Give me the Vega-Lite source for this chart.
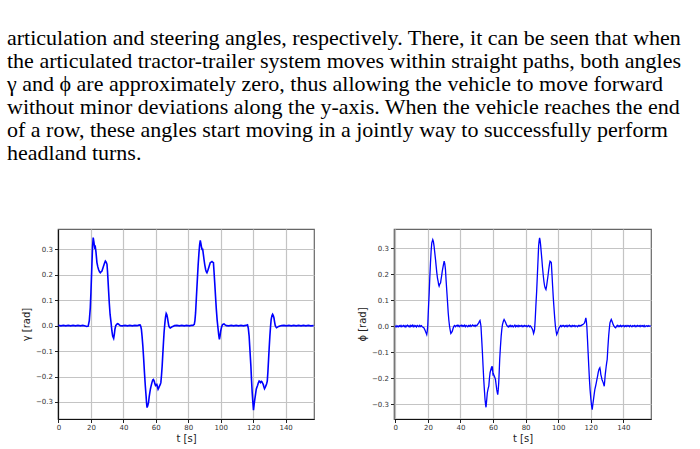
{
  "$schema": "https://vega.github.io/schema/vega-lite/v6.json",
  "background": "white",
  "padding": {"left": 7, "top": 27, "right": 0, "bottom": 0},
  "title": {
    "text": [
      "articulation and steering angles, respectively.  There, it can be seen that when",
      "the articulated tractor-trailer system moves within straight paths, both angles",
      "γ and ϕ are approximately zero, thus allowing the vehicle to move forward",
      "without minor deviations along the y-axis.  When the vehicle reaches the end",
      "of a row, these angles start moving in a jointly way to successfully perform",
      "headland turns."
    ],
    "font": "Liberation Serif",
    "fontSize": 22,
    "fontWeight": "normal",
    "color": "#000000",
    "anchor": "start",
    "frame": "group",
    "dx": -51,
    "lineHeight": 23,
    "offset": 63
  },
  "datasets": {
    "gamma": [
      {"t": 0, "v": 0.001}, {"t": 1.5, "v": -0.001}, {"t": 3, "v": 0.001}, {"t": 4.5, "v": -0.001}, {"t": 6, "v": 0.001}, {"t": 7.5, "v": -0.001}, {"t": 9, "v": 0.001}, {"t": 10.5, "v": -0.001}, {"t": 12, "v": 0.001}, {"t": 13.5, "v": -0.001}, {"t": 15, "v": 0.001}, {"t": 16.5, "v": -0.001}, {"t": 17.5, "v": -0.003}, {"t": 18.3, "v": -0.002}, {"t": 19, "v": 0.02}, {"t": 19.6, "v": 0.07}, {"t": 20, "v": 0.13}, {"t": 20.6, "v": 0.24}, {"t": 21, "v": 0.31}, {"t": 21.4, "v": 0.346}, {"t": 21.8, "v": 0.33}, {"t": 22.3, "v": 0.307}, {"t": 22.7, "v": 0.31}, {"t": 23.1, "v": 0.29}, {"t": 23.7, "v": 0.248}, {"t": 24.2, "v": 0.232}, {"t": 24.7, "v": 0.221}, {"t": 25.3, "v": 0.212}, {"t": 25.8, "v": 0.208}, {"t": 26.3, "v": 0.212}, {"t": 26.8, "v": 0.215}, {"t": 27.3, "v": 0.225}, {"t": 27.8, "v": 0.235}, {"t": 28.4, "v": 0.246}, {"t": 28.9, "v": 0.254}, {"t": 29.4, "v": 0.25}, {"t": 29.9, "v": 0.241}, {"t": 30.2, "v": 0.215}, {"t": 30.5, "v": 0.182}, {"t": 30.9, "v": 0.135}, {"t": 31.3, "v": 0.09}, {"t": 31.8, "v": 0.045}, {"t": 32.4, "v": 0.012}, {"t": 32.9, "v": -0.02}, {"t": 33.4, "v": -0.041}, {"t": 34, "v": -0.05}, {"t": 34.4, "v": -0.035}, {"t": 34.8, "v": -0.014}, {"t": 35.3, "v": 0.0}, {"t": 35.9, "v": 0.005}, {"t": 36.4, "v": 0.008}, {"t": 36.9, "v": 0.007}, {"t": 37.5, "v": 0.003}, {"t": 38.1, "v": 0}, {"t": 39.5, "v": -0.001}, {"t": 41, "v": 0.001}, {"t": 42.5, "v": -0.001}, {"t": 44, "v": 0.001}, {"t": 45.5, "v": -0.001}, {"t": 47, "v": 0.001}, {"t": 48.5, "v": 0.0}, {"t": 49.5, "v": 0.002}, {"t": 50.3, "v": 0.003}, {"t": 50.7, "v": -0.002}, {"t": 51.1, "v": -0.014}, {"t": 51.5, "v": -0.04}, {"t": 52, "v": -0.08}, {"t": 52.5, "v": -0.13}, {"t": 53, "v": -0.185}, {"t": 53.5, "v": -0.235}, {"t": 54, "v": -0.277}, {"t": 54.3, "v": -0.305}, {"t": 54.6, "v": -0.322}, {"t": 55, "v": -0.315}, {"t": 55.5, "v": -0.303}, {"t": 55.9, "v": -0.28}, {"t": 56.3, "v": -0.263}, {"t": 56.7, "v": -0.248}, {"t": 57.1, "v": -0.237}, {"t": 57.6, "v": -0.224}, {"t": 58.1, "v": -0.214}, {"t": 58.5, "v": -0.212}, {"t": 59, "v": -0.218}, {"t": 59.4, "v": -0.228}, {"t": 59.8, "v": -0.235}, {"t": 60.2, "v": -0.232}, {"t": 60.6, "v": -0.231}, {"t": 61, "v": -0.24}, {"t": 61.4, "v": -0.25}, {"t": 61.8, "v": -0.245}, {"t": 62.3, "v": -0.237}, {"t": 62.7, "v": -0.232}, {"t": 63.1, "v": -0.224}, {"t": 63.5, "v": -0.195}, {"t": 63.9, "v": -0.159}, {"t": 64.3, "v": -0.113}, {"t": 64.7, "v": -0.067}, {"t": 65.1, "v": -0.025}, {"t": 65.6, "v": 0.012}, {"t": 66, "v": 0.035}, {"t": 66.4, "v": 0.048}, {"t": 66.8, "v": 0.043}, {"t": 67.2, "v": 0.031}, {"t": 67.6, "v": 0.014}, {"t": 68, "v": -0.001}, {"t": 68.5, "v": -0.007}, {"t": 68.9, "v": -0.009}, {"t": 69.5, "v": -0.007}, {"t": 70.1, "v": -0.004}, {"t": 70.8, "v": -0.002}, {"t": 71.5, "v": 0}, {"t": 73, "v": 0.001}, {"t": 74.5, "v": -0.001}, {"t": 76, "v": 0.001}, {"t": 77.5, "v": -0.001}, {"t": 79, "v": 0.001}, {"t": 80.5, "v": -0.001}, {"t": 82, "v": 0.001}, {"t": 82.9, "v": 0.001}, {"t": 83.7, "v": 0.005}, {"t": 84.1, "v": 0.02}, {"t": 84.5, "v": 0.05}, {"t": 85, "v": 0.11}, {"t": 85.6, "v": 0.182}, {"t": 86.1, "v": 0.24}, {"t": 86.6, "v": 0.287}, {"t": 87, "v": 0.318}, {"t": 87.4, "v": 0.335}, {"t": 87.8, "v": 0.322}, {"t": 88.2, "v": 0.307}, {"t": 88.5, "v": 0.3}, {"t": 88.9, "v": 0.3}, {"t": 89.3, "v": 0.28}, {"t": 89.7, "v": 0.26}, {"t": 90.2, "v": 0.238}, {"t": 90.7, "v": 0.221}, {"t": 91.1, "v": 0.212}, {"t": 91.5, "v": 0.208}, {"t": 92, "v": 0.216}, {"t": 92.6, "v": 0.228}, {"t": 93.1, "v": 0.238}, {"t": 93.6, "v": 0.248}, {"t": 94.1, "v": 0.25}, {"t": 94.6, "v": 0.252}, {"t": 95, "v": 0.25}, {"t": 95.5, "v": 0.248}, {"t": 95.9, "v": 0.21}, {"t": 96.3, "v": 0.169}, {"t": 96.8, "v": 0.115}, {"t": 97.3, "v": 0.064}, {"t": 97.8, "v": 0.022}, {"t": 98.4, "v": -0.014}, {"t": 98.8, "v": -0.038}, {"t": 99.2, "v": -0.054}, {"t": 99.6, "v": -0.04}, {"t": 100, "v": -0.021}, {"t": 100.5, "v": -0.006}, {"t": 101, "v": 0.003}, {"t": 101.5, "v": 0.006}, {"t": 102, "v": 0.007}, {"t": 102.7, "v": 0.003}, {"t": 103.5, "v": 0}, {"t": 105, "v": -0.001}, {"t": 106.5, "v": 0.001}, {"t": 108, "v": -0.001}, {"t": 109.5, "v": 0.001}, {"t": 111, "v": -0.001}, {"t": 112.5, "v": 0.001}, {"t": 114, "v": -0.001}, {"t": 115.5, "v": 0.001}, {"t": 116.5, "v": 0.003}, {"t": 117, "v": -0.01}, {"t": 117.5, "v": -0.04}, {"t": 118, "v": -0.095}, {"t": 118.6, "v": -0.159}, {"t": 119, "v": -0.215}, {"t": 119.4, "v": -0.263}, {"t": 119.8, "v": -0.3}, {"t": 120.2, "v": -0.332}, {"t": 120.6, "v": -0.31}, {"t": 121, "v": -0.29}, {"t": 121.5, "v": -0.268}, {"t": 121.9, "v": -0.25}, {"t": 122.3, "v": -0.242}, {"t": 122.7, "v": -0.235}, {"t": 123.2, "v": -0.225}, {"t": 123.7, "v": -0.218}, {"t": 124.1, "v": -0.22}, {"t": 124.5, "v": -0.224}, {"t": 125, "v": -0.219}, {"t": 125.4, "v": -0.221}, {"t": 125.8, "v": -0.226}, {"t": 126.2, "v": -0.231}, {"t": 126.6, "v": -0.24}, {"t": 127, "v": -0.248}, {"t": 127.4, "v": -0.243}, {"t": 127.8, "v": -0.237}, {"t": 128.3, "v": -0.228}, {"t": 128.7, "v": -0.218}, {"t": 129.1, "v": -0.18}, {"t": 129.5, "v": -0.132}, {"t": 129.9, "v": -0.085}, {"t": 130.3, "v": -0.041}, {"t": 130.7, "v": -0.005}, {"t": 131.1, "v": 0.025}, {"t": 131.6, "v": 0.04}, {"t": 132, "v": 0.045}, {"t": 132.4, "v": 0.04}, {"t": 132.8, "v": 0.031}, {"t": 133.2, "v": 0.015}, {"t": 133.6, "v": 0.001}, {"t": 134, "v": -0.005}, {"t": 134.4, "v": -0.008}, {"t": 135, "v": -0.006}, {"t": 135.7, "v": -0.003}, {"t": 136.5, "v": -0.001}, {"t": 137.5, "v": 0}, {"t": 139, "v": 0.001}, {"t": 140.5, "v": -0.001}, {"t": 142, "v": 0.001}, {"t": 143.5, "v": -0.001}, {"t": 145, "v": 0.001}, {"t": 146.5, "v": -0.001}, {"t": 148, "v": 0.001}, {"t": 149.5, "v": -0.001}, {"t": 151, "v": 0.001}, {"t": 152.5, "v": -0.001}, {"t": 154, "v": 0.001}, {"t": 155.5, "v": -0.001}, {"t": 157.3, "v": 0.0}
    ],
    "phi": [
      {"t": 0, "v": -0.004}, {"t": 0.5, "v": 0.002}, {"t": 1, "v": -0.003}, {"t": 1.5, "v": 0.001}, {"t": 2, "v": -0.002}, {"t": 2.5, "v": 0.002}, {"t": 3, "v": -0.001}, {"t": 3.5, "v": 0.003}, {"t": 4, "v": -0.002}, {"t": 4.5, "v": 0.001}, {"t": 5, "v": 0.003}, {"t": 5.5, "v": -0.002}, {"t": 6, "v": 0.002}, {"t": 6.5, "v": -0.003}, {"t": 7, "v": 0.002}, {"t": 7.5, "v": 0.004}, {"t": 8, "v": -0.001}, {"t": 8.5, "v": 0.002}, {"t": 9, "v": -0.003}, {"t": 9.5, "v": 0.003}, {"t": 10, "v": 0.0}, {"t": 10.5, "v": 0.004}, {"t": 11, "v": -0.002}, {"t": 11.5, "v": 0.003}, {"t": 12, "v": -0.001}, {"t": 12.5, "v": 0.002}, {"t": 13, "v": -0.003}, {"t": 13.5, "v": 0.003}, {"t": 14, "v": 0.001}, {"t": 14.5, "v": -0.002}, {"t": 15, "v": 0.003}, {"t": 15.5, "v": -0.001}, {"t": 16, "v": 0.002}, {"t": 16.5, "v": -0.002}, {"t": 17, "v": -0.004}, {"t": 17.5, "v": -0.006}, {"t": 18, "v": -0.012}, {"t": 18.5, "v": -0.019}, {"t": 19, "v": -0.027}, {"t": 19.3, "v": -0.032}, {"t": 19.6, "v": -0.02}, {"t": 19.9, "v": 0}, {"t": 20.3, "v": 0.06}, {"t": 20.8, "v": 0.128}, {"t": 21.2, "v": 0.19}, {"t": 21.6, "v": 0.244}, {"t": 22, "v": 0.29}, {"t": 22.4, "v": 0.321}, {"t": 23, "v": 0.333}, {"t": 23.4, "v": 0.325}, {"t": 23.8, "v": 0.308}, {"t": 24.2, "v": 0.285}, {"t": 24.7, "v": 0.256}, {"t": 25.1, "v": 0.23}, {"t": 25.5, "v": 0.205}, {"t": 25.9, "v": 0.185}, {"t": 26.3, "v": 0.173}, {"t": 26.6, "v": 0.16}, {"t": 26.9, "v": 0.154}, {"t": 27.3, "v": 0.162}, {"t": 27.8, "v": 0.167}, {"t": 28.1, "v": 0.18}, {"t": 28.4, "v": 0.192}, {"t": 28.8, "v": 0.21}, {"t": 29.2, "v": 0.224}, {"t": 29.6, "v": 0.238}, {"t": 30, "v": 0.25}, {"t": 30.4, "v": 0.24}, {"t": 30.8, "v": 0.218}, {"t": 31.2, "v": 0.175}, {"t": 31.7, "v": 0.128}, {"t": 32.1, "v": 0.09}, {"t": 32.5, "v": 0.051}, {"t": 32.9, "v": 0.022}, {"t": 33.3, "v": 0}, {"t": 33.7, "v": -0.015}, {"t": 34.1, "v": -0.028}, {"t": 34.5, "v": -0.025}, {"t": 35, "v": -0.019}, {"t": 35.5, "v": -0.008}, {"t": 36, "v": 0}, {"t": 36.5, "v": 0.003}, {"t": 37, "v": -0.002}, {"t": 37.5, "v": 0.002}, {"t": 38, "v": 0.004}, {"t": 38.5, "v": -0.001}, {"t": 39, "v": 0.003}, {"t": 39.5, "v": -0.002}, {"t": 40, "v": 0.002}, {"t": 40.5, "v": 0.004}, {"t": 41, "v": -0.001}, {"t": 41.5, "v": 0.003}, {"t": 42, "v": 0.0}, {"t": 42.5, "v": 0.004}, {"t": 43, "v": -0.002}, {"t": 43.5, "v": 0.003}, {"t": 44, "v": 0.001}, {"t": 44.5, "v": -0.002}, {"t": 45, "v": 0.003}, {"t": 45.5, "v": 0.0}, {"t": 46, "v": 0.004}, {"t": 46.5, "v": -0.001}, {"t": 47, "v": 0.002}, {"t": 47.5, "v": 0.005}, {"t": 48, "v": 0.001}, {"t": 48.5, "v": 0.003}, {"t": 49, "v": -0.001}, {"t": 49.5, "v": 0.004}, {"t": 50, "v": 0.002}, {"t": 50.4, "v": 0.005}, {"t": 50.8, "v": 0.009}, {"t": 51.2, "v": 0.013}, {"t": 51.6, "v": 0.018}, {"t": 52, "v": 0.022}, {"t": 52.3, "v": 0.012}, {"t": 52.6, "v": 0}, {"t": 53, "v": -0.045}, {"t": 53.5, "v": -0.103}, {"t": 53.9, "v": -0.155}, {"t": 54.3, "v": -0.205}, {"t": 54.7, "v": -0.245}, {"t": 55.1, "v": -0.282}, {"t": 55.4, "v": -0.3}, {"t": 55.7, "v": -0.312}, {"t": 56.1, "v": -0.285}, {"t": 56.5, "v": -0.256}, {"t": 57, "v": -0.24}, {"t": 57.4, "v": -0.231}, {"t": 57.8, "v": -0.2}, {"t": 58.2, "v": -0.179}, {"t": 58.6, "v": -0.168}, {"t": 59, "v": -0.16}, {"t": 59.3, "v": -0.165}, {"t": 59.6, "v": -0.154}, {"t": 59.8, "v": -0.17}, {"t": 60, "v": -0.186}, {"t": 60.3, "v": -0.184}, {"t": 60.6, "v": -0.19}, {"t": 61, "v": -0.195}, {"t": 61.5, "v": -0.205}, {"t": 61.9, "v": -0.225}, {"t": 62.3, "v": -0.244}, {"t": 62.6, "v": -0.255}, {"t": 62.9, "v": -0.263}, {"t": 63.2, "v": -0.245}, {"t": 63.5, "v": -0.218}, {"t": 63.8, "v": -0.175}, {"t": 64.1, "v": -0.128}, {"t": 64.5, "v": -0.085}, {"t": 65, "v": -0.038}, {"t": 65.4, "v": -0.012}, {"t": 65.8, "v": 0.006}, {"t": 66.3, "v": 0.018}, {"t": 66.8, "v": 0.026}, {"t": 67.3, "v": 0.02}, {"t": 67.8, "v": 0.013}, {"t": 68.3, "v": 0.005}, {"t": 68.9, "v": 0}, {"t": 69.4, "v": -0.003}, {"t": 69.9, "v": 0.002}, {"t": 70.4, "v": -0.002}, {"t": 70.9, "v": 0.003}, {"t": 71.4, "v": -0.001}, {"t": 71.9, "v": 0.002}, {"t": 72.4, "v": -0.003}, {"t": 72.9, "v": 0.001}, {"t": 73.4, "v": 0.004}, {"t": 73.9, "v": -0.002}, {"t": 74.4, "v": 0.002}, {"t": 74.9, "v": -0.001}, {"t": 75.4, "v": 0.003}, {"t": 75.9, "v": -0.002}, {"t": 76.4, "v": 0.002}, {"t": 76.9, "v": 0.0}, {"t": 77.4, "v": 0.003}, {"t": 77.9, "v": -0.002}, {"t": 78.4, "v": 0.002}, {"t": 78.9, "v": -0.001}, {"t": 79.4, "v": 0.003}, {"t": 79.9, "v": 0.0}, {"t": 80.4, "v": 0.002}, {"t": 80.9, "v": -0.002}, {"t": 81.4, "v": 0.001}, {"t": 81.9, "v": 0.003}, {"t": 82.4, "v": -0.002}, {"t": 82.9, "v": 0.001}, {"t": 83.3, "v": -0.002}, {"t": 83.8, "v": -0.007}, {"t": 84.3, "v": -0.013}, {"t": 84.6, "v": -0.02}, {"t": 84.9, "v": -0.028}, {"t": 85.2, "v": -0.022}, {"t": 85.5, "v": -0.013}, {"t": 85.9, "v": 0.025}, {"t": 86.3, "v": 0.077}, {"t": 86.8, "v": 0.135}, {"t": 87.2, "v": 0.192}, {"t": 87.6, "v": 0.25}, {"t": 88, "v": 0.308}, {"t": 88.3, "v": 0.328}, {"t": 88.6, "v": 0.34}, {"t": 88.9, "v": 0.33}, {"t": 89.2, "v": 0.314}, {"t": 89.6, "v": 0.285}, {"t": 90, "v": 0.256}, {"t": 90.4, "v": 0.225}, {"t": 90.9, "v": 0.192}, {"t": 91.3, "v": 0.17}, {"t": 91.7, "v": 0.154}, {"t": 92.1, "v": 0.146}, {"t": 92.5, "v": 0.141}, {"t": 92.9, "v": 0.155}, {"t": 93.3, "v": 0.173}, {"t": 93.8, "v": 0.196}, {"t": 94.2, "v": 0.218}, {"t": 94.6, "v": 0.236}, {"t": 95, "v": 0.25}, {"t": 95.4, "v": 0.248}, {"t": 95.8, "v": 0.244}, {"t": 96.2, "v": 0.2}, {"t": 96.6, "v": 0.154}, {"t": 97, "v": 0.11}, {"t": 97.5, "v": 0.064}, {"t": 97.9, "v": 0.03}, {"t": 98.3, "v": 0}, {"t": 98.7, "v": -0.018}, {"t": 99.1, "v": -0.032}, {"t": 99.5, "v": -0.026}, {"t": 99.9, "v": -0.019}, {"t": 100.4, "v": -0.008}, {"t": 100.9, "v": -0.003}, {"t": 101.4, "v": 0.002}, {"t": 101.9, "v": -0.002}, {"t": 102.4, "v": 0.003}, {"t": 102.9, "v": 0.0}, {"t": 103.4, "v": 0.003}, {"t": 103.9, "v": -0.002}, {"t": 104.4, "v": 0.002}, {"t": 104.9, "v": -0.001}, {"t": 105.4, "v": 0.003}, {"t": 105.9, "v": -0.002}, {"t": 106.4, "v": 0.002}, {"t": 106.9, "v": 0.004}, {"t": 107.4, "v": -0.001}, {"t": 107.9, "v": 0.002}, {"t": 108.4, "v": -0.002}, {"t": 108.9, "v": 0.003}, {"t": 109.4, "v": 0.0}, {"t": 109.9, "v": 0.003}, {"t": 110.4, "v": -0.002}, {"t": 110.9, "v": 0.002}, {"t": 111.4, "v": 0.001}, {"t": 111.9, "v": -0.002}, {"t": 112.4, "v": 0.003}, {"t": 112.9, "v": 0.0}, {"t": 113.4, "v": 0.003}, {"t": 113.9, "v": 0.001}, {"t": 114.4, "v": 0.004}, {"t": 115.1, "v": 0.006}, {"t": 115.6, "v": 0.009}, {"t": 116.2, "v": 0.013}, {"t": 116.6, "v": 0.022}, {"t": 117, "v": 0.032}, {"t": 117.3, "v": 0.02}, {"t": 117.6, "v": 0}, {"t": 118, "v": -0.05}, {"t": 118.4, "v": -0.103}, {"t": 118.8, "v": -0.155}, {"t": 119.2, "v": -0.205}, {"t": 119.6, "v": -0.245}, {"t": 120.1, "v": -0.282}, {"t": 120.5, "v": -0.305}, {"t": 120.9, "v": -0.321}, {"t": 121.3, "v": -0.3}, {"t": 121.7, "v": -0.282}, {"t": 122.1, "v": -0.262}, {"t": 122.5, "v": -0.244}, {"t": 123, "v": -0.23}, {"t": 123.4, "v": -0.218}, {"t": 123.8, "v": -0.205}, {"t": 124.2, "v": -0.192}, {"t": 124.6, "v": -0.178}, {"t": 125, "v": -0.167}, {"t": 125.3, "v": -0.163}, {"t": 125.6, "v": -0.16}, {"t": 125.9, "v": -0.17}, {"t": 126.2, "v": -0.186}, {"t": 126.6, "v": -0.196}, {"t": 126.9, "v": -0.205}, {"t": 127.3, "v": -0.212}, {"t": 127.7, "v": -0.218}, {"t": 128, "v": -0.225}, {"t": 128.3, "v": -0.231}, {"t": 128.6, "v": -0.21}, {"t": 128.9, "v": -0.186}, {"t": 129.2, "v": -0.17}, {"t": 129.5, "v": -0.154}, {"t": 129.8, "v": -0.14}, {"t": 130.1, "v": -0.128}, {"t": 130.5, "v": -0.085}, {"t": 131, "v": -0.038}, {"t": 131.4, "v": -0.01}, {"t": 131.8, "v": 0.013}, {"t": 132.2, "v": 0.02}, {"t": 132.6, "v": 0.026}, {"t": 133, "v": 0.02}, {"t": 133.4, "v": 0.013}, {"t": 133.8, "v": 0.006}, {"t": 134.3, "v": 0}, {"t": 134.8, "v": -0.004}, {"t": 135.3, "v": -0.006}, {"t": 135.8, "v": -0.001}, {"t": 136.3, "v": 0.003}, {"t": 136.8, "v": -0.002}, {"t": 137.3, "v": 0.002}, {"t": 137.8, "v": -0.001}, {"t": 138.3, "v": 0.003}, {"t": 138.8, "v": -0.002}, {"t": 139.3, "v": 0.002}, {"t": 139.8, "v": 0.0}, {"t": 140.3, "v": 0.003}, {"t": 140.8, "v": -0.002}, {"t": 141.3, "v": 0.002}, {"t": 141.8, "v": -0.001}, {"t": 142.3, "v": 0.003}, {"t": 142.8, "v": 0.0}, {"t": 143.3, "v": 0.002}, {"t": 143.8, "v": -0.002}, {"t": 144.3, "v": 0.003}, {"t": 144.8, "v": 0.001}, {"t": 145.3, "v": -0.002}, {"t": 145.8, "v": 0.002}, {"t": 146.3, "v": 0.0}, {"t": 146.8, "v": 0.003}, {"t": 147.3, "v": -0.002}, {"t": 147.8, "v": 0.002}, {"t": 148.3, "v": -0.001}, {"t": 148.8, "v": 0.003}, {"t": 149.3, "v": 0.0}, {"t": 149.8, "v": 0.002}, {"t": 150.3, "v": -0.002}, {"t": 150.8, "v": 0.003}, {"t": 151.3, "v": 0.0}, {"t": 151.8, "v": 0.002}, {"t": 152.3, "v": -0.001}, {"t": 152.8, "v": 0.003}, {"t": 153.3, "v": -0.002}, {"t": 153.8, "v": 0.001}, {"t": 154.3, "v": 0.002}, {"t": 154.8, "v": -0.001}, {"t": 155.3, "v": 0.002}, {"t": 155.8, "v": 0.0}, {"t": 156.3, "v": 0.001}, {"t": 156.9, "v": 0.0}
    ]
  },
  "spacing": 80,
  "bounds": "flush",
  "hconcat": [
    {
      "width": 256,
      "height": 190,
      "data": {"name": "gamma"},
      "mark": {"type": "line", "color": "#0000ff", "strokeWidth": 1.6, "clip": true},
      "encoding": {
        "x": {
          "field": "t", "type": "quantitative",
          "scale": {"domain": [-0.3, 157.5], "nice": false, "zero": false},
          "axis": {"title": "t [s]", "values": [0, 20, 40, 60, 80, 100, 120, 140], "format": "d"}
        },
        "y": {
          "field": "v", "type": "quantitative",
          "scale": {"domain": [-0.367, 0.38], "nice": false, "zero": false},
          "axis": {"title": "γ [rad]", "values": [-0.3, -0.2, -0.1, 0, 0.1, 0.2, 0.3], "format": ".1f"}
        }
      }
    },
    {
      "width": 257,
      "height": 190,
      "data": {"name": "phi"},
      "mark": {"type": "line", "color": "#0000ff", "strokeWidth": 1.3, "clip": true},
      "encoding": {
        "x": {
          "field": "t", "type": "quantitative",
          "scale": {"domain": [-0.8, 157], "nice": false, "zero": false},
          "axis": {"title": "t [s]", "values": [0, 20, 40, 60, 80, 100, 120, 140], "format": "d"}
        },
        "y": {
          "field": "v", "type": "quantitative",
          "scale": {"domain": [-0.357, 0.374], "nice": false, "zero": false},
          "axis": {"title": "ϕ [rad]", "values": [-0.3, -0.2, -0.1, 0, 0.1, 0.2, 0.3], "format": ".1f", "domainColor": "#777777"}
        }
      }
    }
  ],
  "config": {
    "view": {"stroke": "#666666", "strokeWidth": 1.2},
    "axis": {
      "grid": true,
      "gridColor": "#c4c4c4",
      "gridWidth": 1.2,
      "domainColor": "#111111",
      "domainWidth": 1.2,
      "tickColor": "#222222",
      "tickSize": 3.5,
      "tickWidth": 1,
      "labelFont": "DejaVu Sans",
      "labelFontSize": 7,
      "labelColor": "#333333",
      "labelPadding": 2,
      "labelFlush": false,
      "labelOverlap": false,
      "titleFont": "DejaVu Sans",
      "titleFontSize": 10,
      "titleFontWeight": "normal",
      "titleColor": "#222222"
    },
    "axisX": {"titlePadding": 3, "labelPadding": 1},
    "axisY": {"titlePadding": 4}
  }
}
